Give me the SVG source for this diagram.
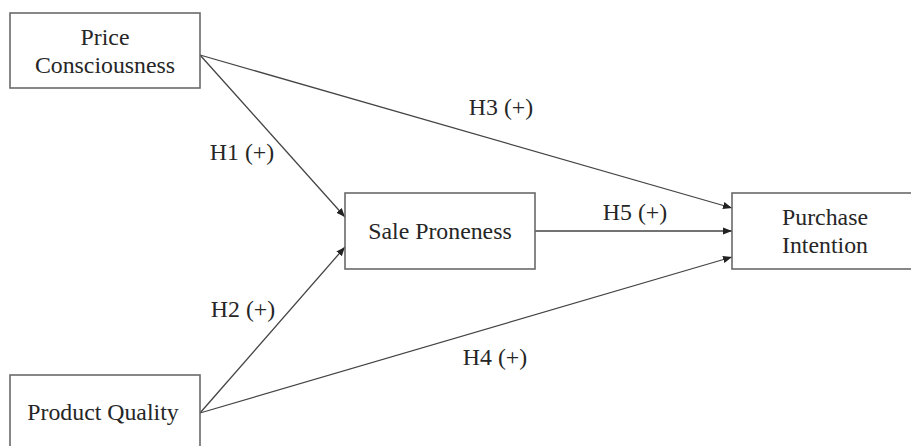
<svg xmlns="http://www.w3.org/2000/svg" width="911" height="446" viewBox="0 0 911 446">
<style>
.box{fill:#fff;stroke:#6a6a6a;stroke-width:1.6}
.t{font-family:"Liberation Serif","Times New Roman",serif;font-size:23.8px;fill:#262626;text-anchor:middle}
.c{stroke:#444;stroke-width:1.3;fill:none;marker-end:url(#ah)}
</style>
<defs>
<marker id="ah" viewBox="0 0 10 10" refX="10" refY="5" markerWidth="9" markerHeight="9" markerUnits="userSpaceOnUse" orient="auto">
<path d="M0,1 L10,5 L0,9 z" fill="#222"/>
</marker>
</defs>
<rect width="911" height="446" fill="#fff"/>
<g id="connectors">
<line class="c" x1="200" y1="55" x2="345" y2="217"/>
<line class="c" x1="200" y1="413" x2="345" y2="247"/>
<line class="c" x1="200" y1="55" x2="732" y2="208"/>
<line class="c" x1="535" y1="231" x2="732" y2="231"/>
<line class="c" x1="200" y1="413" x2="732" y2="257"/>
<text class="t" x="242" y="160">H1 (+)</text>
<text class="t" x="243" y="317">H2 (+)</text>
<text class="t" x="501" y="115">H3 (+)</text>
<text class="t" x="495" y="365">H4 (+)</text>
<text class="t" x="635" y="220">H5 (+)</text>
</g>
<g id="price">
<rect class="box" x="10" y="13" width="190" height="75"/>
<text class="t" x="105" y="45">Price</text>
<text class="t" x="105" y="73">Consciousness</text>
</g>
<g id="sale">
<rect class="box" x="345" y="193" width="190" height="76"/>
<text class="t" x="440" y="239">Sale Proneness</text>
</g>
<g id="purchase">
<rect class="box" x="732" y="193" width="186" height="76"/>
<text class="t" x="825" y="225">Purchase</text>
<text class="t" x="825" y="253">Intention</text>
</g>
<g id="product">
<rect class="box" x="10" y="375" width="190" height="80"/>
<text class="t" x="103" y="420">Product Quality</text>
</g>
</svg>
